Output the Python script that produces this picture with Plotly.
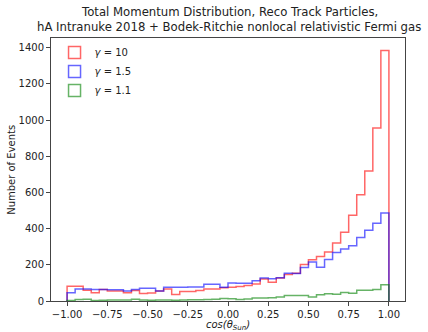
import numpy as np
import plotly.graph_objects as go

# Histogram binning: 40 bins of width 0.05 on [-1, 1]
bin_start = -1.0
bin_width = 0.05
n_bins = 40

# Counts per bin
counts_g10 = [82, 82, 60, 46, 63, 55, 55, 46, 58, 42,
              44, 55, 66, 36, 52, 52, 58, 67, 66, 73,
              76, 80, 86, 94, 121, 103, 127, 147, 153, 202,
              228, 246, 271, 321, 380, 474, 587, 719, 957, 1385]
counts_g15 = [46, 66, 66, 63, 63, 62, 62, 55, 63, 71,
              70, 55, 76, 76, 76, 77, 77, 92, 92, 76,
              99, 98, 98, 112, 127, 123, 128, 154, 152, 185,
              215, 186, 229, 268, 287, 306, 351, 391, 430, 486]
counts_g11 = [3, 8, 9, 3, 4, 5, 5, 5, 9, 5,
              4, 6, 5, 4, 5, 7, 7, 8, 10, 14,
              13, 8, 11, 16, 17, 18, 22, 31, 31, 31,
              22, 34, 40, 38, 47, 43, 59, 59, 63, 90]

series_names = ["<i>γ</i> = 10", "<i>γ</i> = 1.5", "<i>γ</i> = 1.1"]
series_colors = ["rgba(255,0,0,0.6)", "rgba(0,0,255,0.6)", "rgba(0,128,0,0.6)"]

title_lines = ["Total Momentum Distribution, Reco Track Particles,",
               "hA Intranuke 2018 + Bodek-Ritchie nonlocal relativistic Fermi gas"]
x_label = "<i>cos(θ<sub>Sun</sub>)</i>"
y_label = "Number of Events"

x_ticks = [-1.0, -0.75, -0.5, -0.25, 0.0, 0.25, 0.5, 0.75, 1.0]
y_ticks = [0, 200, 400, 600, 800, 1000, 1200, 1400]

edges = bin_start + bin_width * np.arange(n_bins + 1)

fig = go.Figure()
for name, color, counts in zip(series_names,
                               series_colors,
                               [counts_g10, counts_g15, counts_g11]):
    xs = [edges[0]] + list(edges[:-1]) + [edges[-1]]
    ys = [0] + list(counts) + [0]
    fig.add_trace(go.Scatter(x=xs, y=ys, mode="lines",
                             line=dict(color=color, width=1.5, shape="hv"),
                             showlegend=False, hoverinfo="skip"))
    # legend entry: outlined rectangle like a step-histogram patch
    fig.add_trace(go.Bar(x=[None], y=[None], name=name,
                         marker=dict(color="rgba(0,0,0,0)",
                                     line=dict(color=color, width=1.5))))

ymax = max(max(counts_g10), max(counts_g15), max(counts_g11)) * 1.05

axis_common = dict(showline=True, mirror=True, linecolor="#444", linewidth=1,
                   ticks="outside", ticklen=4, tickcolor="#444",
                   showgrid=False, zeroline=False, automargin=False,
                   tickfont=dict(family="DejaVu Sans", size=10, color="#222"))

txt = dict(family="DejaVu Sans", color="#222")
annotations = [
    dict(text=title_lines[0], xref="paper", yref="paper", x=0.504, y=1.097,
         xanchor="center", yanchor="middle", showarrow=False,
         font=dict(size=11.7, **txt)),
    dict(text=title_lines[1], xref="paper", yref="paper", x=0.504, y=1.043,
         xanchor="center", yanchor="middle", showarrow=False,
         font=dict(size=11.7, **txt)),
    dict(text=x_label, xref="paper", yref="paper", x=0.5, y=-0.092,
         xanchor="center", yanchor="middle", showarrow=False,
         font=dict(size=10, **txt)),
    dict(text=y_label, xref="paper", yref="paper", x=-0.112, y=0.5,
         xanchor="center", yanchor="middle", showarrow=False, textangle=-90,
         font=dict(size=10, **txt)),
]

fig.update_layout(
    width=428, height=332,
    margin=dict(l=51, r=23, t=38, b=31, autoexpand=False),
    plot_bgcolor="white", paper_bgcolor="white",
    font=dict(family="DejaVu Sans", color="#222"),
    xaxis=dict(range=[-1.1, 1.1], tickvals=x_ticks, tickformat=".2f",
               **axis_common),
    yaxis=dict(range=[0, ymax], tickvals=y_ticks, **axis_common),
    legend=dict(x=0.01, y=1.0, xanchor="left", yanchor="top",
                bgcolor="rgba(0,0,0,0)",
                font=dict(family="DejaVu Sans", size=10, color="#222"),
                tracegroupgap=0),
    showlegend=True,
    annotations=annotations,
)

fig.write_html("out.html")
